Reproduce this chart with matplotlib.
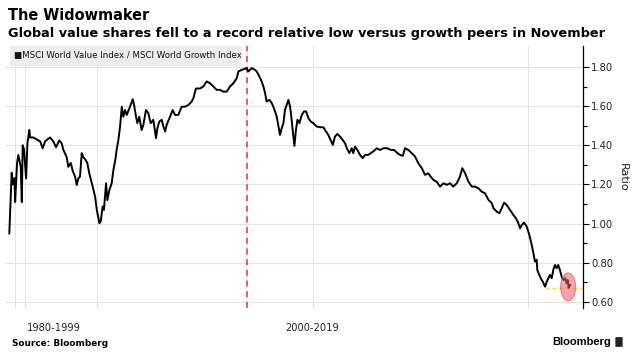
import matplotlib
matplotlib.use("Agg")
import matplotlib.pyplot as plt
from matplotlib.patches import Ellipse, Rectangle, FancyBboxPatch
import matplotlib.transforms as mtransforms

# ---------------- data (decimal year, ratio) ----------------
years = [
    1995.93, 1996.04, 1996.10, 1996.17, 1996.20, 1996.29, 1996.35, 1996.46, 1996.51, 1996.55,
    1996.61, 1996.71, 1996.77, 1996.86, 1996.89, 1997.04, 1997.20, 1997.36, 1997.48, 1997.59,
    1997.82, 1997.97, 1998.10, 1998.25, 1998.36, 1998.44, 1998.59, 1998.67, 1998.78, 1998.87,
    1998.98, 1999.06, 1999.13, 1999.21, 1999.29, 1999.36, 1999.44, 1999.55, 1999.64, 1999.75,
    1999.91, 1999.99, 2000.11, 2000.17, 2000.26, 2000.32, 2000.42, 2000.48, 2000.57, 2000.68,
    2000.76, 2000.84, 2000.91, 2000.99, 2001.07, 2001.15, 2001.22, 2001.30, 2001.38, 2001.53,
    2001.66, 2001.72, 2001.81, 2001.87, 2001.96, 2002.07, 2002.15, 2002.27, 2002.38, 2002.49,
    2002.61, 2002.74, 2002.80, 2002.89, 2003.00, 2003.08, 2003.16, 2003.23, 2003.39, 2003.51,
    2003.62, 2003.77, 2003.93, 2004.08, 2004.24, 2004.39, 2004.47, 2004.59, 2004.78, 2004.93,
    2005.09, 2005.24, 2005.40, 2005.55, 2005.71, 2005.86, 2006.02, 2006.17, 2006.33, 2006.48,
    2006.56, 2006.71, 2006.95, 2007.02, 2007.18, 2007.33, 2007.41, 2007.53, 2007.64, 2007.72,
    2007.80, 2007.87, 2008.00, 2008.11, 2008.18, 2008.26, 2008.34, 2008.41, 2008.49, 2008.57,
    2008.65, 2008.72, 2008.80, 2008.88, 2008.96, 2009.03, 2009.11, 2009.16, 2009.23, 2009.30,
    2009.39, 2009.50, 2009.61, 2009.70, 2009.81, 2009.92, 2010.04, 2010.19, 2010.35, 2010.50,
    2010.63, 2010.73, 2010.84, 2010.94, 2011.04, 2011.15, 2011.28, 2011.40, 2011.51, 2011.59,
    2011.71, 2011.82, 2011.89, 2011.97, 2012.08, 2012.20, 2012.33, 2012.44, 2012.59, 2012.70,
    2012.82, 2012.98, 2013.13, 2013.29, 2013.47, 2013.63, 2013.78, 2013.94, 2014.06, 2014.19,
    2014.29, 2014.45, 2014.60, 2014.76, 2014.91, 2015.07, 2015.22, 2015.37, 2015.48, 2015.61,
    2015.76, 2015.92, 2016.07, 2016.23, 2016.38, 2016.53, 2016.69, 2016.84, 2016.95, 2017.08,
    2017.23, 2017.39, 2017.54, 2017.69, 2017.85, 2018.00, 2018.16, 2018.32, 2018.39, 2018.55,
    2018.67, 2018.78, 2018.89, 2019.01, 2019.16, 2019.32, 2019.44, 2019.55, 2019.63, 2019.71,
    2019.81, 2019.94, 2020.06, 2020.17, 2020.25, 2020.32, 2020.40, 2020.43, 2020.52, 2020.59,
    2020.68, 2020.79, 2020.87, 2020.94, 2021.02, 2021.10, 2021.17, 2021.25, 2021.33, 2021.40,
    2021.48, 2021.56, 2021.64, 2021.72, 2021.79, 2021.84, 2021.88, 2021.95,
]
ratio = [
    0.950, 1.260, 1.200, 1.233, 1.110, 1.310, 1.350, 1.290, 1.110, 1.400,
    1.380, 1.230, 1.410, 1.478, 1.440, 1.440, 1.430, 1.420, 1.385, 1.420,
    1.440, 1.420, 1.390, 1.425, 1.410, 1.376, 1.340, 1.290, 1.310, 1.270,
    1.240, 1.197, 1.230, 1.240, 1.360, 1.340, 1.330, 1.310, 1.257, 1.210,
    1.138, 1.070, 1.002, 1.010, 1.087, 1.070, 1.206, 1.120, 1.170, 1.206,
    1.274, 1.320, 1.376, 1.427, 1.496, 1.597, 1.546, 1.580, 1.555, 1.597,
    1.635, 1.606, 1.546, 1.513, 1.546, 1.478, 1.504, 1.580, 1.564, 1.513,
    1.530, 1.436, 1.487, 1.521, 1.530, 1.496, 1.470, 1.504, 1.546, 1.580,
    1.555, 1.555, 1.597, 1.597, 1.606, 1.623, 1.640, 1.690, 1.690, 1.700,
    1.726, 1.717, 1.700, 1.683, 1.683, 1.674, 1.674, 1.700, 1.717, 1.742,
    1.777, 1.785, 1.794, 1.777, 1.794, 1.785, 1.777, 1.752, 1.726, 1.700,
    1.666, 1.623, 1.632, 1.615, 1.597, 1.573, 1.546, 1.504, 1.453, 1.487,
    1.513, 1.580, 1.606, 1.632, 1.597, 1.530, 1.444, 1.397, 1.478, 1.530,
    1.513, 1.555, 1.573, 1.573, 1.538, 1.521, 1.513, 1.496, 1.492, 1.492,
    1.470, 1.453, 1.427, 1.402, 1.444, 1.458, 1.444, 1.427, 1.410, 1.385,
    1.360, 1.385, 1.360, 1.393, 1.376, 1.351, 1.334, 1.351, 1.351, 1.360,
    1.368, 1.385, 1.376, 1.385, 1.385, 1.376, 1.376, 1.360, 1.351, 1.346,
    1.385, 1.376, 1.360, 1.342, 1.308, 1.283, 1.249, 1.257, 1.240, 1.223,
    1.214, 1.189, 1.206, 1.198, 1.206, 1.189, 1.206, 1.240, 1.283, 1.257,
    1.215, 1.189, 1.189, 1.181, 1.163, 1.155, 1.122, 1.104, 1.079, 1.061,
    1.053, 1.079, 1.107, 1.095, 1.070, 1.044, 1.027, 1.002, 0.976, 0.993,
    1.005, 0.985, 0.942, 0.891, 0.849, 0.806, 0.815, 0.763, 0.738, 0.721,
    0.704, 0.678, 0.704, 0.721, 0.738, 0.721, 0.763, 0.789, 0.772, 0.789,
    0.763, 0.729, 0.712, 0.721, 0.695, 0.712, 0.672, 0.687,
]

y_ticks = [0.60, 0.80, 1.00, 1.20, 1.40, 1.60, 1.80]
y_tick_labels = ["0.60", "0.80", "1.00", "1.20", "1.40", "1.60", "1.80"]
x_grid_years = [1996.2, 1996.66, 2000.0, 2010.0, 2020.0]
period_labels = ["1980-1999", "2000-2019"]
period_label_x = [1998.0, 2010.0]
peak_marker_year = 2006.96
record_low_level = 0.673
prior_low_year = 2020.79
highlight_center = (2021.86, 0.677)

title = "The Widowmaker"
subtitle = "Global value shares fell to a record relative low versus growth peers in November"
series_name = "MSCI World Value Index / MSCI World Growth Index"

# ---------------- figure ----------------
fig = plt.figure(figsize=(6.38, 3.58), dpi=100)
ax = fig.add_axes([5 / 638, 50 / 358, (583 - 5) / 638, (312 - 50) / 358])

xmin, xmax = 1995.73, 2022.55
ax.set_xlim(xmin, xmax)
ax.set_ylim(0.569, 1.907)

# grid
ax.set_xticks(x_grid_years)
ax.set_xticklabels([])
ax.tick_params(axis="x", length=0)
ax.set_yticks(y_ticks)
ax.set_yticks([0.7, 0.9, 1.1, 1.3, 1.5, 1.7], minor=True)
ax.grid(True, which="major", color="#e4e4e4", linewidth=0.8)
ax.set_axisbelow(True)

# spines
for s in ["left", "top", "bottom"]:
    ax.spines[s].set_visible(False)
ax.spines["right"].set_color("black")
ax.spines["right"].set_linewidth(0.9)
ax.yaxis.tick_right()
ax.yaxis.set_label_position("right")
ax.set_yticklabels(y_tick_labels, fontsize=7.2, color="#222222")
ax.tick_params(axis="y", which="major", length=4, width=0.8, pad=2, direction="out")
ax.tick_params(axis="y", which="minor", length=3, width=0.8, direction="out")
ax.set_ylabel("Ratio", rotation=270, fontsize=8, labelpad=10, color="#222222")

# red dashed peak marker
ax.axvline(peak_marker_year, color="#e0313a", linestyle=(0, (4, 3)), linewidth=1.1, zorder=2)

# yellow dashed prior low
ax.hlines(record_low_level, prior_low_year, xmax, colors="#f5e13a", linestyles=(0, (3, 2)),
          linewidth=1.0, zorder=2)

# series
ax.plot(years, ratio, color="black", linewidth=1.4, zorder=3)

# highlight ellipse
ax.add_patch(Ellipse(highlight_center, 0.70, 0.143, facecolor="#f25a6a", edgecolor="#e8404f",
                     alpha=0.55, linewidth=0.8, zorder=4))

# legend box
ax.add_patch(Rectangle((0.009, 0.925), 0.40, 0.075, transform=ax.transAxes,
                       facecolor="#ededed", edgecolor="none", zorder=5, clip_on=False))
ax.text(0.016, 0.962, "\u25a0" + series_name, transform=ax.transAxes, fontsize=6.2,
        va="center", ha="left", color="#111111", zorder=6)

# period labels
trans = mtransforms.blended_transform_factory(ax.transData, ax.transAxes)
for lab, xp in zip(period_labels, period_label_x):
    ax.text(xp, -0.075, lab, transform=trans, ha="center", va="center", fontsize=7.1,
            color="#222222")

# titles
fig.text(8 / 638, 1 - 15.5 / 358, title, fontsize=11.6, fontweight="bold",
         fontstretch="condensed", va="center", ha="left")
fig.text(8 / 638, 1 - 34 / 358, subtitle, fontsize=9.3, fontweight="bold", va="center", ha="left")

# footer
fig.text(12 / 638, 1 - 343.5 / 358, "Source: Bloomberg", fontsize=6.4, fontweight="bold",
         va="center", ha="left")
fig.text(611 / 638, 1 - 342 / 358, "Bloomberg", fontsize=8, fontweight="bold",
         family="Liberation Sans", va="center", ha="right")
fig.patches.append(FancyBboxPatch((616 / 638, 1 - 346.5 / 358), 6 / 638, 9 / 358,
                                  boxstyle="round,pad=0.001", transform=fig.transFigure,
                                  facecolor="#222222", edgecolor="none"))

fig.savefig("out.png", dpi=100)
